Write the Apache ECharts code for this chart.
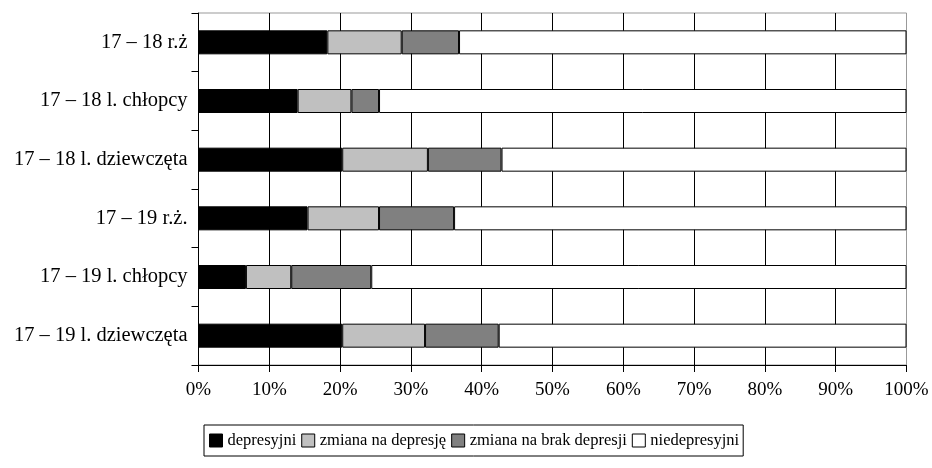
<!DOCTYPE html>
<html>
<head>
<meta charset="utf-8">
<script src="https://cdn.jsdelivr.net/npm/echarts@6/dist/echarts.min.js"></script>
<style>html,body{margin:0;padding:0;background:#fff}#c{width:932px;height:468px}</style>
</head>
<body>
<div id="c"></div>
<script>
var categories = ["17 – 18 r.ż", "17 – 18 l. chłopcy", "17 – 18 l. dziewczęta", "17 – 19 r.ż.", "17 – 19 l. chłopcy", "17 – 19 l. dziewczęta"];
var seriesNames = ["depresyjni", "zmiana na depresję", "zmiana na brak depresji", "niedepresyjni"];
var depresyjni = [18.2, 14.0, 20.3, 15.4, 6.7, 20.3];
var zmianaNaDepresje = [10.5, 7.6, 12.1, 10.1, 6.4, 11.7];
var zmianaNaBrak = [8.1, 3.9, 10.4, 10.6, 11.3, 10.4];
var niedepresyjni = [63.2, 74.5, 57.2, 63.9, 75.6, 57.6];
var colors = ["#000000", "#c0c0c0", "#808080", "#ffffff"];

var font = "Liberation Serif";
var allData = [depresyjni, zmianaNaDepresje, zmianaNaBrak, niedepresyjni];
var series = seriesNames.map(function (n, i) {
  return {
    name: n, type: 'bar', stack: 'total', barWidth: 24,
    data: allData[i],
    itemStyle: { color: colors[i], borderColor: '#000', borderWidth: 1 }
  };
});
var splitColors = [];
for (var k = 0; k < 10; k++) splitColors.push('#000');
splitColors.push('#999');

var chart = echarts.init(document.getElementById('c'), null, { renderer: 'canvas' });
chart.setOption({
  animation: false,
  backgroundColor: '#fff',
  textStyle: { fontFamily: font, color: '#000' },
  grid: { left: 198.5, right: 25.5, top: 13, bottom: 103, show: true, borderColor: '#999', borderWidth: 1, backgroundColor: 'transparent' },
  xAxis: {
    type: 'value', min: 0, max: 100, interval: 10,
    axisLine: { show: true, lineStyle: { color: '#000', width: 1 } },
    axisTick: { show: true, length: 7, lineStyle: { color: '#000' } },
    axisLabel: { formatter: '{value}%', fontFamily: font, fontSize: 19, color: '#000', margin: 16 },
    splitLine: { show: true, lineStyle: { color: splitColors, width: 1 } }
  },
  yAxis: {
    type: 'category', data: categories, inverse: true,
    axisLine: { show: true, lineStyle: { color: '#000', width: 1 } },
    axisTick: { show: true, length: 7, lineStyle: { color: '#000' } },
    axisLabel: { fontFamily: font, fontSize: 20.5, color: '#000', margin: 11 },
    splitLine: { show: false }
  },
  legend: {
    data: seriesNames, top: 425, left: 204,
    borderColor: '#000', borderWidth: 1, padding: [7, 4, 7, 5],
    icon: 'rect', itemWidth: 13, itemHeight: 13, itemGap: 5,
    itemStyle: { borderColor: '#000', borderWidth: 1 },
    textStyle: { fontFamily: font, fontSize: 16.5, color: '#000' }
  },
  series: series
});
</script>
</body>
</html>
